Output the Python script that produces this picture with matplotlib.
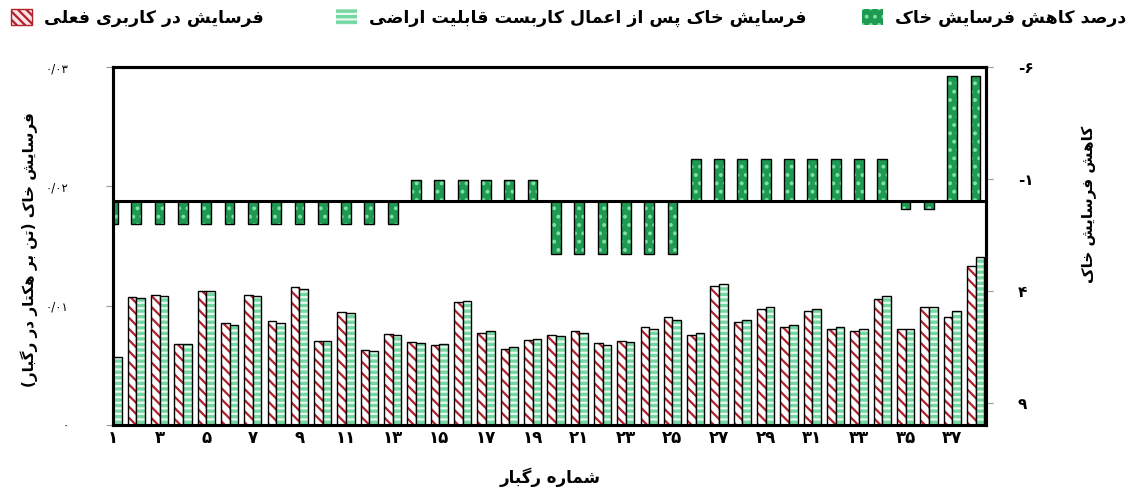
import numpy as np
import matplotlib
matplotlib.use('Agg')
import matplotlib.pyplot as plt
from matplotlib.patches import Patch

############ data ############

storms = list(range(1, 39))

# soil erosion under current land use (t/ha per storm)
erosion_current = [0.0058, 0.01073, 0.01092, 0.00678, 0.01126, 0.00854, 0.01087, 0.00874,
                   0.01154, 0.00706, 0.00944, 0.00625, 0.00762, 0.00692, 0.00672, 0.01028,
                   0.0077, 0.00639, 0.00714, 0.00756, 0.00784, 0.00686, 0.007, 0.00824,
                   0.00905, 0.00756, 0.01162, 0.0086, 0.00972, 0.00821, 0.00958, 0.00807,
                   0.0079, 0.01056, 0.00807, 0.00986, 0.00905, 0.01336]

# soil erosion after land capability use
erosion_capability = [0.0057, 0.01064, 0.01084, 0.00678, 0.0112, 0.0084, 0.01081, 0.00857,
                      0.0114, 0.00703, 0.00938, 0.00619, 0.00756, 0.00686, 0.00678, 0.01042,
                      0.00784, 0.0065, 0.00723, 0.00742, 0.0077, 0.00672, 0.00692, 0.00804,
                      0.00882, 0.0077, 0.01185, 0.00877, 0.00989, 0.00838, 0.00972, 0.00821,
                      0.00804, 0.01084, 0.00807, 0.00986, 0.00955, 0.01409]

# percent reduction of soil erosion (right axis, inverted)
reduction = [1.0, 1.0, 1.0, 1.0, 1.0, 1.0, 1.0, 1.0, 1.0, 1.0, 1.0, 1.0, 1.0,
             -0.95, -0.95, -0.95, -0.95, -0.95, -0.95,
             2.35, 2.35, 2.35, 2.35, 2.35, 2.35,
             -1.9, -1.9, -1.9, -1.9, -1.9, -1.9, -1.9, -1.9, -1.9,
             0.35, 0.35, -5.6, -5.6]

left_ticks = [0, 0.01, 0.02, 0.03]
left_labels = ['۰', '۰/۰۱', '۰/۰۲', '۰/۰۳']
right_ticks = [-6, -1, 4, 9]
right_labels = ['-۶', '-۱', '۴', '۹']
x_ticks = list(range(1, 38, 2))
fa_digits = '۰۱۲۳۴۵۶۷۸۹'
x_labels = [''.join(fa_digits[int(d)] for d in str(v)) for v in x_ticks]

label_current = 'فرسایش در کاربری فعلی'
label_capability = 'فرسایش خاک پس از اعمال کاربست قابلیت اراضی'
label_reduction = 'درصد کاهش فرسایش خاک'
ylabel_left = 'فرسایش خاک (تن بر هکتار در رگبار)'
ylabel_right = 'کاهش فرسایش خاک'
xlabel = 'شماره رگبار'

############ simple persian shaping (no bidi lib available) ############

FORMS = {
    'ا': (0xFE8D, 0xFE8E, None, None),
    'ب': (0xFE8F, 0xFE90, 0xFE91, 0xFE92),
    'پ': (0xFB56, 0xFB57, 0xFB58, 0xFB59),
    'ت': (0xFE95, 0xFE96, 0xFE97, 0xFE98),
    'خ': (0xFEA5, 0xFEA6, 0xFEA7, 0xFEA8),
    'د': (0xFEA9, 0xFEAA, None, None),
    'ر': (0xFEAD, 0xFEAE, None, None),
    'ز': (0xFEAF, 0xFEB0, None, None),
    'س': (0xFEB1, 0xFEB2, 0xFEB3, 0xFEB4),
    'ش': (0xFEB5, 0xFEB6, 0xFEB7, 0xFEB8),
    'ص': (0xFEB9, 0xFEBA, 0xFEBB, 0xFEBC),
    'ض': (0xFEBD, 0xFEBE, 0xFEBF, 0xFEC0),
    'ع': (0xFEC9, 0xFECA, 0xFECB, 0xFECC),
    'ف': (0xFED1, 0xFED2, 0xFED3, 0xFED4),
    'ق': (0xFED5, 0xFED6, 0xFED7, 0xFED8),
    'ک': (0xFB8E, 0xFB8F, 0xFB90, 0xFB91),
    'گ': (0xFB92, 0xFB93, 0xFB94, 0xFB95),
    'ل': (0xFEDD, 0xFEDE, 0xFEDF, 0xFEE0),
    'م': (0xFEE1, 0xFEE2, 0xFEE3, 0xFEE4),
    'ن': (0xFEE5, 0xFEE6, 0xFEE7, 0xFEE8),
    'ه': (0xFEE9, 0xFEEA, 0xFEEB, 0xFEEC),
    'ی': (0xFBFC, 0xFBFD, 0xFBFE, 0xFBFF),
}


def fa(s):
    out = []
    for i, c in enumerate(s):
        if c not in FORMS:
            out.append(c)
            continue
        prev = s[i - 1] if i > 0 else ''
        nxt = s[i + 1] if i + 1 < len(s) else ''
        jp = prev in FORMS and FORMS[prev][2] is not None
        jn = FORMS[c][2] is not None and nxt in FORMS
        iso, fin, ini, med = FORMS[c]
        if jp and jn:
            f = med
        elif jp:
            f = fin
        elif jn:
            f = ini
        else:
            f = iso
        out.append(chr(f))
    vis = ''.join(out)[::-1]
    return vis.translate(str.maketrans('()', ')('))


############ plot ############

plt.rcParams['font.family'] = ['DejaVu Sans']
plt.rcParams['hatch.linewidth'] = 1.6

red = '#b0222c'
light_green = '#74d6a1'
dark_green = '#1f9a52'

fig = plt.figure(figsize=(11.34, 4.93), dpi=100)
ax = fig.add_axes([0.0996, 0.138, 0.7699, 0.726])
ax2 = ax.twinx()

x = np.array(storms)
w = 0.37

# current land use
ax.bar(x - w / 2, erosion_current, w, color='white', edgecolor=red, hatch='\\\\\\', lw=0)
ax.bar(x - w / 2, erosion_current, w, fill=False, edgecolor='black', lw=1.0)
# land capability
ax.bar(x + w / 2, erosion_capability, w, color=light_green, edgecolor='#e8fbef', hatch='---', lw=0)
ax.bar(x + w / 2, erosion_capability, w, fill=False, edgecolor='black', lw=1.0)

# reduction percentage
ax2.bar(x, reduction, 0.42, color=dark_green, edgecolor='#7fe0a6', hatch='..', lw=0)
ax2.bar(x, reduction, 0.42, fill=False, edgecolor='black', lw=1.0)
ax2.axhline(0, color='black', lw=2.2)

ax.set_xlim(1, 38.45)
ax.set_ylim(0, 0.03)
ax2.set_ylim(10, -6)

ax.set_yticks(left_ticks)
ax.set_yticklabels(left_labels, fontsize=8.5)
ax2.set_yticks(right_ticks)
ax2.set_yticklabels(right_labels, fontsize=11, fontweight='bold')
ax.set_xticks(x_ticks)
ax.set_xticklabels(x_labels, fontsize=12, fontweight='bold')

ax.tick_params(axis='x', length=0, pad=3)
ax.tick_params(axis='y', length=5, color='#999999', pad=27)
ax2.tick_params(axis='y', length=5, color='#999999', pad=18)

for a in (ax, ax2):
    for sp in a.spines.values():
        sp.set_linewidth(2.2)

ax.set_ylabel(fa(ylabel_left), fontsize=11, fontweight='bold')
ax.yaxis.set_label_coords(-0.086, 0.49)
ax2.set_ylabel(fa(ylabel_right), fontsize=11, fontweight='bold', rotation=90)
ax2.yaxis.set_label_coords(1.11, 0.616)
ax.set_xlabel(fa(xlabel), fontsize=12, fontweight='bold')
ax.xaxis.set_label_coords(0.5006, -0.12)

# legend: three entries placed one by one, box left of text
entries = [
    (Patch(facecolor='#fbe3e5', edgecolor=red, hatch='\\\\\\\\', lw=1.0), fa(label_current), 11),
    (Patch(facecolor=light_green, edgecolor='#e8fbef', hatch='---', lw=0), fa(label_capability), 336),
    (Patch(facecolor=dark_green, edgecolor='#7fe0a6', hatch='..', lw=0), fa(label_reduction), 862),
]
for h, lab, px in entries:
    fig.legend([h], [lab], loc='center left', bbox_to_anchor=(px / 1134, 1 - 18 / 493),
               frameon=False, prop={'size': 12.5, 'weight': 'bold'}, handlelength=1.2,
               handleheight=1.1, handletextpad=0.7, borderpad=0, borderaxespad=0)

plt.savefig('out.png', dpi=100)
